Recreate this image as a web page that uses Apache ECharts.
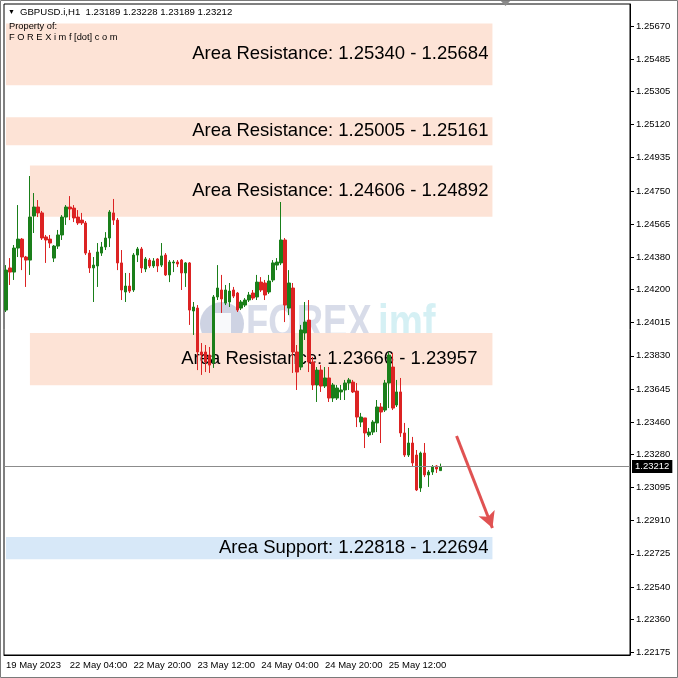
<!DOCTYPE html>
<html>
<head>
<meta charset="utf-8">
<script src="https://cdn.jsdelivr.net/npm/echarts@6/dist/echarts.min.js"></script>
<style>
html,body{margin:0;padding:0;background:#fff;}
#chart{width:678px;height:678px;}
</style>
</head>
<body>
<div id="chart"></div>
<script>
// ---- data ----
const sessionDays = [['19 May',12,24],['22 May',0,24],['23 May',0,24],['24 May',0,24],['25 May',0,24],['26 May',0,2]];
const totalSlots = 157;

const opens = [1.24085,1.24320,1.24297,1.24431,1.24481,1.24381,1.24364,1.24610,1.24660,1.24627,
1.24493,1.24481,1.24375,1.24442,1.24504,1.24604,1.24660,1.24654,1.24604,1.24587,
1.24571,1.24403,1.24320,1.24331,1.24403,1.24437,1.24487,1.24627,1.24587,1.24348,
1.24186,1.24219,1.24197,1.24392,1.24426,1.24314,1.24364,1.24331,1.24370,1.24336,
1.24392,1.24281,1.24348,1.24353,1.24364,1.24292,1.24348,1.24080,1.24096,1.23851,
1.23851,1.23834,1.23790,1.24158,1.24197,1.24124,1.24130,1.24197,1.24180,1.24096,
1.24113,1.24141,1.24180,1.24158,1.24241,1.24236,1.24186,1.24253,1.24336,1.24348,
1.24476,1.24096,1.24208,1.23851,1.23767,1.23957,1.24029,1.23795,1.23667,1.23750,
1.23661,1.23706,1.23594,1.23594,1.23628,1.23639,1.23678,1.23683,1.23633,1.23460,
1.23483,1.23388,1.23404,1.23455,1.23544,1.23527,1.23678,1.23767,1.23555,1.23628,
1.23399,1.23276,1.23343,1.23276,1.23092,1.23287,1.23165,1.23181,1.23215,1.23189];

const closes = [1.24308,1.24297,1.24431,1.24481,1.24381,1.24364,1.24604,1.24660,1.24627,1.24487,
1.24476,1.24459,1.24442,1.24504,1.24604,1.24660,1.24649,1.24599,1.24571,1.24571,
1.24403,1.24320,1.24336,1.24409,1.24437,1.24487,1.24632,1.24587,1.24348,1.24197,
1.24219,1.24191,1.24392,1.24426,1.24320,1.24370,1.24331,1.24359,1.24331,1.24387,
1.24281,1.24353,1.24353,1.24342,1.24292,1.24348,1.24085,1.24102,1.23851,1.23834,
1.23795,1.23778,1.24158,1.24208,1.24147,1.24197,1.24191,1.24163,1.24085,1.24130,
1.24141,1.24169,1.24152,1.24241,1.24197,1.24169,1.24247,1.24348,1.24353,1.24476,
1.24113,1.24236,1.23851,1.23739,1.23974,1.24018,1.23795,1.23667,1.23750,1.23661,
1.23706,1.23594,1.23667,1.23650,1.23639,1.23678,1.23695,1.23628,1.23488,1.23488,
1.23399,1.23404,1.23460,1.23544,1.23516,1.23678,1.23834,1.23538,1.23628,1.23399,
1.23276,1.23343,1.23232,1.23081,1.23287,1.23165,1.23181,1.23209,1.23198,1.23212];

const lows = [1.24074,1.24225,1.24253,1.24381,1.24308,1.24214,1.24281,1.24515,1.24604,1.24476,
1.24348,1.24431,1.24353,1.24426,1.24476,1.24560,1.24587,1.24576,1.24560,1.24560,
1.24392,1.24292,1.24130,1.24214,1.24387,1.24420,1.24437,1.24560,1.24308,1.24141,
1.24130,1.24180,1.24186,1.24353,1.24292,1.24297,1.24320,1.24320,1.24297,1.24325,
1.24275,1.24241,1.24297,1.24325,1.24197,1.24214,1.24002,1.23946,1.23750,1.23723,
1.23739,1.23734,1.23762,1.24141,1.24069,1.24113,1.24102,1.24152,1.24074,1.24085,
1.24102,1.24130,1.24141,1.24141,1.24186,1.24141,1.24175,1.24241,1.24308,1.24336,
1.24018,1.24057,1.23734,1.23639,1.23750,1.23918,1.23739,1.23639,1.23572,1.23628,
1.23650,1.23572,1.23572,1.23583,1.23583,1.23583,1.23639,1.23622,1.23432,1.23432,
1.23315,1.23377,1.23388,1.23404,1.23343,1.23516,1.23538,1.23527,1.23544,1.23377,
1.23265,1.23265,1.23209,1.23075,1.23070,1.23153,1.23098,1.23165,1.23176,1.23189];

const highs = [1.24336,1.24375,1.24448,1.24671,1.24487,1.24387,1.24833,1.24738,1.24699,1.24638,
1.24504,1.24504,1.24448,1.24532,1.24615,1.24671,1.24721,1.24671,1.24643,1.24627,
1.24582,1.24420,1.24381,1.24459,1.24465,1.24520,1.24643,1.24705,1.24599,1.24420,
1.24292,1.24292,1.24403,1.24437,1.24437,1.24381,1.24375,1.24375,1.24375,1.24459,
1.24403,1.24364,1.24364,1.24364,1.24370,1.24353,1.24353,1.24130,1.24113,1.23901,
1.23890,1.23879,1.24169,1.24336,1.24281,1.24225,1.24236,1.24214,1.24186,1.24141,
1.24152,1.24186,1.24197,1.24281,1.24269,1.24253,1.24281,1.24364,1.24375,1.24688,
1.24487,1.24308,1.24236,1.23890,1.24002,1.24130,1.24141,1.23823,1.23767,1.23778,
1.23767,1.23767,1.23678,1.23667,1.23667,1.23695,1.23706,1.23695,1.23678,1.23511,
1.23483,1.23427,1.23471,1.23583,1.23566,1.23695,1.23851,1.23845,1.23695,1.23706,
1.23455,1.23427,1.23377,1.23304,1.23295,1.23343,1.23192,1.23220,1.23220,1.23228];

const yTicks = [1.25670,1.25485,1.25305,1.25120,1.24935,1.24750,1.24565,1.24380,1.24200,1.24015,
1.23830,1.23645,1.23460,1.23280,1.23095,1.22910,1.22725,1.22540,1.22360,1.22175];
const yMin = 1.22160, yMax = 1.25793;

const bandTexts = ['Area Resistance: 1.25340 - 1.25684','Area Resistance: 1.25005 - 1.25161','Area Resistance: 1.24606 - 1.24892','Area Resistance: 1.23666 - 1.23957','Area Support: 1.22818 - 1.22694'];
const bandLow  = [1.25340,1.25005,1.24606,1.23666,1.22694];
const bandHigh = [1.25684,1.25161,1.24892,1.23957,1.22818];
const bandStart = [0,0,6,6,0];
const bandEnd = [122,122,122,122,122];
const bandColors = ['#fde3d6','#fde3d6','#fde3d6','#fde3d6','#d7e8f8'];
const bandLabelGap = [4,4,4,15,4];

const currentPrice = 1.23212;
const headerText = 'GBPUSD.i,H1  1.23189 1.23228 1.23189 1.23212';
const arrowFrom = [113, 1.23382];
const arrowTo = [122, 1.22869];

// ---- build ----
const categories = [];
sessionDays.forEach(d => { for (let h = d[1]; h < d[2]; h++) categories.push(d[0] + ' ' + String(h).padStart(2,'0') + ':00'); });
while (categories.length < totalSlots) categories.push('');
const candleData = opens.map((o,i) => [o, closes[i], lows[i], highs[i]]);

const FONT = 'Liberation Sans';
const showIdx = i => i % 16 === 0 && i <= 96;

const chart = echarts.init(document.getElementById('chart'));
chart.setOption({
  animation: false,
  backgroundColor: '#fff',
  grid: {left: 4, right: 48, top: 4, bottom: 23, show: true, borderColor: '#000', borderWidth: 1, backgroundColor: '#fff'},
  xAxis: {
    type: 'category', data: categories, boundaryGap: true,
    axisLine: {lineStyle: {color: '#000'}},
    axisTick: {alignWithLabel: true, interval: (i) => showIdx(i), length: 4, lineStyle: {color: '#000'}},
    axisLabel: {interval: (i) => showIdx(i), align: 'left', margin: 5, fontSize: 9.5, fontFamily: FONT, color: '#000',
      formatter: (v, i) => i === 0 ? '19 May 2023' : v},
    splitLine: {show: false}
  },
  yAxis: {
    type: 'value', position: 'right', min: yMin, max: yMax, scale: true,
    axisLine: {show: true, lineStyle: {color: '#000'}},
    axisTick: {show: true, customValues: yTicks, length: 4, lineStyle: {color: '#000'}},
    axisLabel: {customValues: yTicks, formatter: v => v.toFixed(5), fontSize: 9.5, fontFamily: FONT, color: '#000', margin: 6},
    splitLine: {show: false}
  },
  graphic: [
    {type: 'group', z: 1.5, silent: true, children: [
      {type: 'circle', shape: {cx: 222, cy: 324, r: 22}, style: {fill: 'rgba(185,193,215,0.7)'}},
      {type: 'rect', shape: {x: 213, y: 313, width: 18, height: 22}, style: {fill: 'rgba(255,255,255,0.85)'}},
      {type: 'text', x: 246, y: 325, scaleX: 0.76, style: {text: 'FOREX', font: 'bold 48px ' + FONT, fill: 'rgba(190,197,218,0.6)', verticalAlign: 'middle'}},
      {type: 'text', x: 378, y: 325, scaleX: 0.8, style: {text: 'imf', font: 'bold 48px ' + FONT, fill: 'rgba(190,232,238,0.65)', verticalAlign: 'middle'}}
    ]},
    {type: 'text', z: 10, x: 8, y: 12, style: {text: '▼', font: '7px ' + FONT, fill: '#000', verticalAlign: 'middle'}},
    {type: 'text', z: 10, x: 20, y: 12, style: {text: headerText, font: '9.6px ' + FONT, fill: '#000', verticalAlign: 'middle'}},
    {type: 'text', z: 10, x: 9, y: 26, style: {text: 'Property of:', font: '9.3px ' + FONT, fill: '#000', verticalAlign: 'middle'}},
    {type: 'text', z: 10, x: 9, y: 37, style: {text: 'F O R E X i m f [dot] c o m', font: '9.3px ' + FONT, fill: '#000', verticalAlign: 'middle'}},
    {type: 'polygon', z: 10, shape: {points: [[500,0],[511,0],[505.5,6]]}, style: {fill: '#8a8a8a'}},
    {type: 'rect', z: 10, shape: {x: 0.5, y: 0.5, width: 677, height: 677}, style: {fill: 'none', stroke: '#7a7a7a', lineWidth: 1}}
  ],
  series: [
    {
      type: 'line', data: [], z: 1, silent: true,
      markArea: {
        silent: true,
        label: {show: true, position: 'insideRight', distance: 4, fontSize: 18.5, fontFamily: FONT, color: '#000'},
        data: bandTexts.map((t, i) => [
          {name: t, xAxis: bandStart[i], yAxis: bandHigh[i], itemStyle: {color: bandColors[i]}, label: {distance: bandLabelGap[i]}},
          {xAxis: bandEnd[i], yAxis: bandLow[i]}
        ])
      }
    },
    {
      type: 'line', data: [], z: 2, silent: true,
      markLine: {
        silent: true, symbol: 'none', precision: 5,
        lineStyle: {color: '#8c8c8c', width: 1, type: 'solid'},
        label: {show: true, position: 'end', distance: 2, formatter: currentPrice.toFixed(5), color: '#fff', backgroundColor: '#000', padding: [2,3,1,3], fontSize: 9.5, fontFamily: FONT},
        data: [{yAxis: currentPrice}]
      }
    },
    {
      type: 'candlestick', data: candleData, z: 3, barWidth: 3,
      itemStyle: {color: '#1a7f1a', color0: '#dc2323', borderColor: '#1a7f1a', borderColor0: '#dc2323', borderWidth: 1}
    },
    {
      type: 'line', data: [], z: 4, silent: true,
      markLine: {
        silent: true, symbol: ['none', 'arrow'], symbolSize: [13, 16], precision: 5,
        lineStyle: {color: '#e05252', width: 3, type: 'solid'},
        label: {show: false},
        data: [[{coord: arrowFrom}, {coord: arrowTo}]]
      }
    }
  ]
});
</script>
</body>
</html>
